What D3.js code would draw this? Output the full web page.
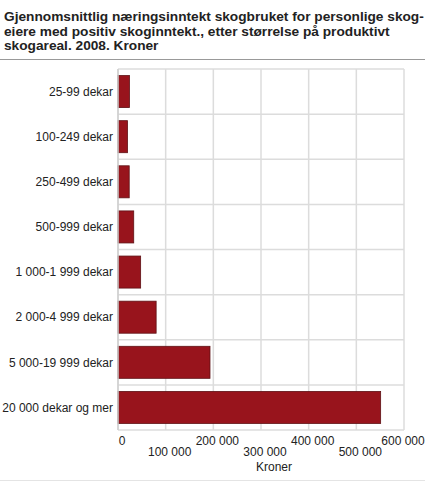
<!DOCTYPE html>
<html>
<head>
<meta charset="utf-8">
<script src="https://cdn.jsdelivr.net/npm/d3@7"></script>
<style>
  body { margin: 0; background: #fff; }
  text { font-family: "Liberation Sans", Arial, sans-serif; fill: #222; }
</style>
</head>
<body>
<svg id="chart" width="425" height="482"></svg>
<script>
// Data
const categories = [
  "25-99 dekar",
  "100-249 dekar",
  "250-499 dekar",
  "500-999 dekar",
  "1 000-1 999 dekar",
  "2 000-4 999 dekar",
  "5 000-19 999 dekar",
  "20 000 dekar og mer",
];
const values = [24000, 20000, 23500, 33000, 47500, 80000, 193000, 551000];
const tickValues = [0, 100000, 200000, 300000, 400000, 500000, 600000];
const titleLines = [
  "Gjennomsnittlig næringsinntekt skogbruket for personlige skog-",
  "eiere med positiv skoginntekt., etter størrelse på produktivt",
  "skogareal. 2008. Kroner",
];
const axisTitle = "Kroner";

const margin = { top: 69, right: 21, bottom: 52, left: 118 },
  width = 425,
  height = 482,
  innerWidth = width - margin.left - margin.right,
  innerHeight = height - margin.top - margin.bottom;

const svg = d3.select("#chart");

// Title, three lines
svg
  .append("text")
  .attr("y", 21)
  .style("font-size", "13.7px")
  .style("font-weight", "bold")
  .selectAll("tspan")
  .data(titleLines)
  .join("tspan")
  .attr("x", 4)
  .attr("dy", (d, i) => (i === 0 ? 0 : 14.6))
  .text((d) => d);

// separator lines
svg.append("line")
  .attr("x1", 0).attr("x2", width)
  .attr("y1", 59.5).attr("y2", 59.5)
  .attr("stroke", "#999").attr("stroke-width", 1);
svg.append("line")
  .attr("x1", 0).attr("x2", width)
  .attr("y1", 480.5).attr("y2", 480.5)
  .attr("stroke", "#e4e4e4").attr("stroke-width", 1);

const g = svg.append("g").attr("transform", `translate(${margin.left},${margin.top})`);

const x_Scale = d3.scaleLinear().domain([0, 600000]).range([0, innerWidth]);
const y_Scale = d3
  .scaleBand()
  .domain(categories)
  .range([0, innerHeight])
  .paddingInner(0.29)
  .paddingOuter(0.145);

// vertical gridlines
g.selectAll(".vgrid")
  .data(tickValues)
  .join("line")
  .attr("class", "vgrid")
  .attr("x1", (d) => x_Scale(d))
  .attr("x2", (d) => x_Scale(d))
  .attr("y1", 0)
  .attr("y2", innerHeight)
  .attr("stroke", "#dcdcdc")
  .attr("stroke-width", 1.5);

// horizontal gridlines between categories
const step = y_Scale.step();
const gap = step - y_Scale.bandwidth();
const hLines = d3.range(categories.length + 1).map((i) => y_Scale(categories[0]) - gap / 2 + i * step);
g.selectAll(".hgrid")
  .data(hLines)
  .join("line")
  .attr("class", "hgrid")
  .attr("x1", 0)
  .attr("x2", innerWidth)
  .attr("y1", (d) => d)
  .attr("y2", (d) => d)
  .attr("stroke", "#dcdcdc")
  .attr("stroke-width", 1.5);

// bars
g.selectAll(".bar")
  .data(values)
  .join("rect")
  .attr("class", "bar")
  .attr("x", x_Scale(0))
  .attr("y", (d, i) => y_Scale(categories[i]))
  .attr("width", (d) => x_Scale(d) - x_Scale(0))
  .attr("height", y_Scale.bandwidth())
  .attr("fill", "#98141c")
  .attr("stroke", "#5e1216")
  .attr("stroke-width", 0.8);

// y axis line
g.append("line")
  .attr("x1", 0).attr("x2", 0)
  .attr("y1", 0).attr("y2", innerHeight)
  .attr("stroke", "#cfcfcf").attr("stroke-width", 1.5);

// category labels
g.selectAll(".cat")
  .data(categories)
  .join("text")
  .attr("class", "cat")
  .attr("x", -5)
  .attr("y", (d) => y_Scale(d) + y_Scale.bandwidth() / 2)
  .attr("dy", "0.35em")
  .attr("text-anchor", "end")
  .style("font-size", "12px")
  .text((d) => d);

// x tick labels, staggered in two rows; last one kept inside the frame
const fmt = (v) => d3.format(",")(v).replace(/,/g, " ");
g.selectAll(".xtick")
  .data(tickValues)
  .join("text")
  .attr("class", "xtick")
  .attr("x", (d) => Math.min(x_Scale(d) + 4, innerWidth + margin.right - 22))
  .attr("y", (d, i) => innerHeight + (i % 2 === 0 ? 15 : 26))
  .attr("text-anchor", "middle")
  .style("font-size", "12px")
  .text((d) => fmt(d));

// axis title
g.append("text")
  .attr("x", innerWidth / 2 + 13)
  .attr("y", innerHeight + 41)
  .attr("text-anchor", "middle")
  .style("font-size", "12px")
  .text(axisTitle);
</script>
</body>
</html>
